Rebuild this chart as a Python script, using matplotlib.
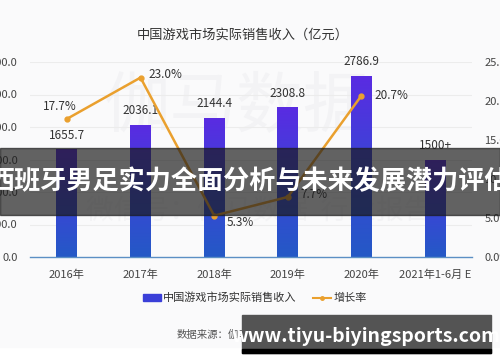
import matplotlib
matplotlib.use('Agg')
import matplotlib.pyplot as plt
import numpy as np
from matplotlib.patches import Rectangle
from matplotlib.lines import Line2D

plt.rcParams['font.family'] = ['Noto Sans CJK SC', 'DejaVu Sans']

# data
years = ['2016年', '2017年', '2018年', '2019年', '2020年', '2021年1-6月 E']
revenue = [1655.7, 2036.1, 2144.4, 2308.8, 2786.9, 1500.0]
revenue_labels = ['1655.7', '2036.1', '2144.4', '2308.8', '2786.9', '1500+']
growth = [17.7, 23.0, 5.3, 7.7, 20.7]
growth_labels = ['17.7%', '23.0%', '5.3%', '7.7%', '20.7%']
left_ticks = [0, 500, 1000, 1500, 2000, 2500, 3000]
right_ticks = [0, 5, 10, 15, 20, 25]

W, H = 500, 362
fig = plt.figure(figsize=(5, 3.62), dpi=100)
fig.patch.set_facecolor('white')
# light page background
fig.patches.append(Rectangle((0, 1 - 347 / H), 1, 347 / H, transform=fig.transFigure,
                             color='#fafafb', zorder=-10))

ax = fig.add_axes([30 / W, 1 - 257 / H, 442 / W, 195 / H])
ax.set_facecolor('none')
x = np.arange(len(years))

# faint watermark behind chart
ax.text(2.3, 2300, '伽马数据', fontsize=48, color='#f3f3f5', ha='center', va='center', zorder=0)
ax.text(2.6, 700, '微信号：伽马数据  行业报告', fontsize=20, color='#f3f3f5', ha='center', va='center', zorder=0)

bars = ax.bar(x, revenue, width=0.285, color='#4a3fd8', zorder=2)
grad = np.linspace(0, 1, 256).reshape(-1, 1)
cmap = matplotlib.colors.LinearSegmentedColormap.from_list('g', ['#2459c6', '#3a45d6', '#5a2be2'])
for b in bars:
    bx, by = b.get_x(), b.get_y()
    im = ax.imshow(grad, extent=[bx, bx + b.get_width(), by, by + b.get_height()],
                   origin='lower', cmap=cmap, aspect='auto', zorder=2)
    im.set_clip_path(b)
    b.set_alpha(0)

for xi, v, lab in zip(x, revenue, revenue_labels):
    ax.annotate(lab, (xi, v), xytext=(0, 10), textcoords='offset points',
                ha='center', va='center', fontsize=8.5, color='#333333', zorder=5)

ax.set_xlim(-0.5, 5.5)
ax.set_ylim(0, 3000)
ax.set_yticks(left_ticks)
ax.set_yticklabels(['%.1f' % t for t in left_ticks])
ax.yaxis.grid(True, color='#ececec', lw=0.8, zorder=0)
ax.set_axisbelow(True)
ax.set_xticks(x)
ax.set_xticklabels(years)
ax.tick_params(axis='x', length=0, pad=9, labelsize=8, labelcolor='#444444')
ax.tick_params(axis='y', length=0, pad=9, labelsize=8, labelcolor='#444444')
for s in ['top', 'right', 'left']:
    ax.spines[s].set_visible(False)
ax.spines['bottom'].set_color('#5b8fc4')
ax.spines['bottom'].set_linewidth(1.0)

ax2 = ax.twinx()
ax2.set_ylim(0, 25)
ax2.set_yticks(right_ticks)
ax2.set_yticklabels(['%.1f%%' % t for t in right_ticks])
ax2.tick_params(axis='y', length=0, pad=9, labelsize=8, labelcolor='#444444')
for s in ax2.spines.values():
    s.set_visible(False)
ax2.plot(x[:len(growth)], growth, color='#eaa02e', lw=1.8, marker='o', ms=3.5, zorder=4)
offsets = [(-5, 9, 'center'), (6, 2, 'left'), (9, -5, 'left'), (9, 2, 'left'), (9, 0, 'left')]
for xi, g, lab, (dx, dy, ha) in zip(x, growth, growth_labels, offsets):
    ax2.annotate(lab, (xi, g), xytext=(dx, dy), textcoords='offset points',
                 ha=ha, va='center', fontsize=8.5, color='#333333', zorder=5)

fig.text(243 / W, 1 - 35 / H, '中国游戏市场实际销售收入（亿元）', ha='center', va='center',
         fontsize=9.5, color='#333333')

# legend
handles = [Rectangle((0, 0), 1, 1, color='#3a3fd8'),
           Line2D([0], [0], color='#eaa02e', lw=1.5, marker='o', ms=2.5)]
fig.legend(handles, ['中国游戏市场实际销售收入', '增长率'], loc='center',
           bbox_to_anchor=(255 / W, 1 - 298 / H), ncol=2, frameon=False, fontsize=8,
           handlelength=1.6, handleheight=0.5, columnspacing=1.5, handletextpad=0.2,
           labelcolor='#333333')

fig.text(177 / W, 1 - 335 / H, '数据来源：伽马数据（CNG）', ha='left', va='center',
         fontsize=7.5, color='#555555')

# overlay banner
fig.patches.append(Rectangle((0, 1 - 215 / H), 1, 67 / H, transform=fig.transFigure,
                             color='#1a1a1a', alpha=0.68, zorder=20))
fig.text(0.5, 1 - 182 / H, '西班牙男足实力全面分析与未来发展潜力评估', ha='center', va='center',
         fontsize=18.8, color='white', fontweight='bold', zorder=21)

# site watermark box
fig.patches.append(Rectangle((242 / W, 1 - 353 / H), 249 / W, 38 / H, transform=fig.transFigure,
                             color='#545454', zorder=20))
fig.patches.append(Rectangle((242 / W, 1 - 353 / H), 249 / W, 4 / H, transform=fig.transFigure,
                             color='#000000', zorder=20))
fig.text(366 / W, 1 - 336 / H, 'www.tiyu-biyingsports.com', ha='center', va='center',
         fontsize=14, color='white', fontweight='bold', zorder=21)

fig.savefig('out.png', dpi=100)
